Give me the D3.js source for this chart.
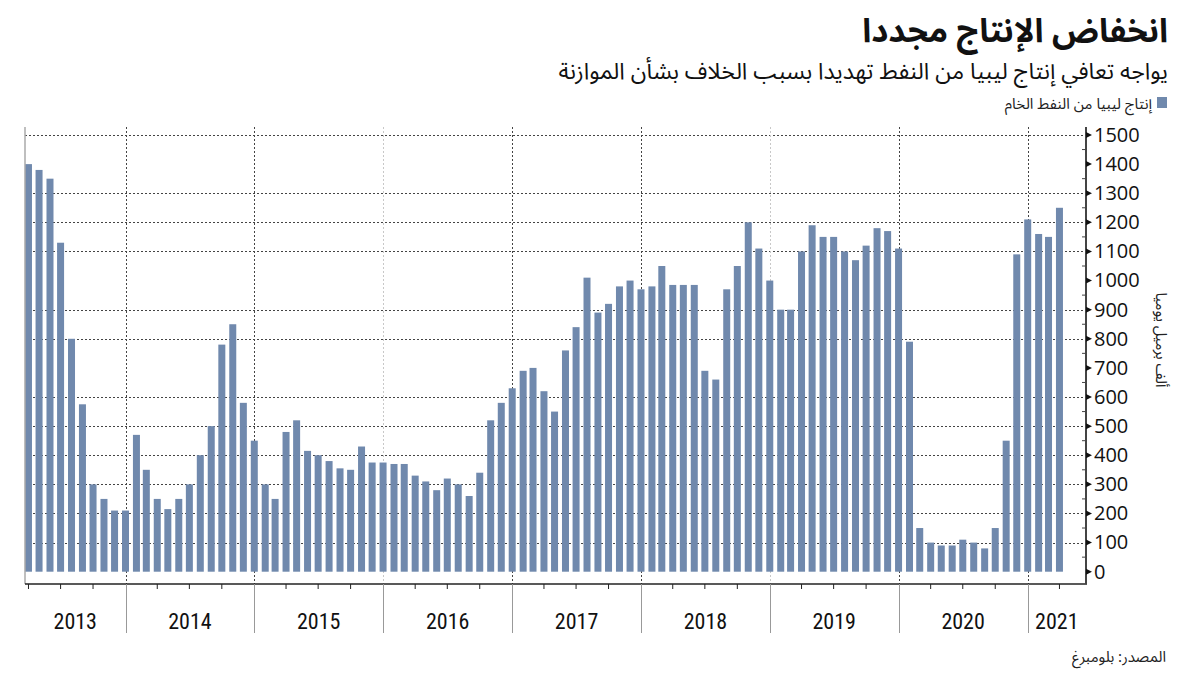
<!DOCTYPE html>
<html>
<head>
<meta charset="utf-8">
<script src="https://cdn.jsdelivr.net/npm/d3@7"></script>
<style>
  body { margin: 0; background: #fff; }
  svg { display: block; }
  .ar { font-family: "Noto Sans Arabic", "DejaVu Sans", sans-serif; }
</style>
</head>
<body>
<svg id="chart" width="1200" height="675"></svg>
<script>
// Libyan crude output, thousand barrels a day, monthly from Apr 2013 to Apr 2021
let firstMonth = new Date(2013, 3, 1), lastMonth = new Date(2021, 3, 1);
let values = [
  1400, 1380, 1350, 1130, 800, 575, 300, 250, 210,            // 2013 Apr-Dec
  210, 470, 350, 250, 215, 250, 300, 400, 500, 780, 850, 580,  // 2014
  450, 300, 250, 480, 520, 415, 400, 380, 355, 350, 430, 375,  // 2015
  375, 370, 370, 330, 310, 280, 320, 300, 260, 340, 520, 580,  // 2016
  630, 690, 700, 620, 550, 760, 840, 1010, 890, 920, 980, 1000, // 2017
  970, 980, 1050, 985, 985, 985, 690, 660, 970, 1050, 1200, 1110, // 2018
  1000, 900, 900, 1100, 1190, 1150, 1150, 1100, 1070, 1120, 1180, 1170, // 2019
  1110, 790, 150, 100, 90, 90, 110, 100, 80, 150, 450, 1090,  // 2020
  1210, 1160, 1150, 1250                                      // 2021 Jan-Apr
];
let months = d3.timeMonth.range(firstMonth, d3.timeMonth.offset(lastMonth, 1));
let yTicks = d3.range(0, 1501, 100);
let gridValues = [100, 200, 300, 400, 500, 600, 800, 900, 1100, 1200, 1300, 1500];
let years = d3.range(2013, 2022);
let lightYears = [2016, 2019];

let title = "انخفاض الإنتاج مجددا";
let subtitle = "يواجه تعافي إنتاج ليبيا من النفط تهديدا بسبب الخلاف بشأن الموازنة";
let legendLabel = "إنتاج ليبيا من النفط الخام";
let yLabel = "ألف برميل يوميا";
let source = "المصدر: بلومبرغ";

let data = months.map((m, i) => ({ date: m, value: values[i] }));

let svg = d3.select('#chart');
let plotLeft = 25, plotRight = 1086, plotTop = 127, plotBottom = 584;

let x = d3.scaleTime()
    .domain([new Date(2014, 0, 1), new Date(2021, 0, 1)])
    .range([125.5, 1027.7]);
let y = d3.scaleLinear().domain([0, 1500]).range([571.7, 135]);

// horizontal grid
svg.append('g').selectAll('line')
  .data(gridValues).enter().append('line')
    .attr('x1', plotLeft).attr('x2', plotRight)
    .attr('y1', d => Math.round(y(d)) + 0.5).attr('y2', d => Math.round(y(d)) + 0.5)
    .attr('stroke', '#444').attr('stroke-width', 1)
    .attr('stroke-dasharray', '2,2');

// vertical year grid
let yearStarts = years.slice(1).map(yr => new Date(yr, 0, 1));
svg.append('g').selectAll('line')
  .data(yearStarts).enter().append('line')
    .attr('x1', d => Math.round(x(d)) + 0.5).attr('x2', d => Math.round(x(d)) + 0.5)
    .attr('y1', plotTop).attr('y2', plotBottom)
    .attr('stroke', d => lightYears.includes(d.getFullYear()) ? '#c8c8c8' : '#444')
    .attr('stroke-dasharray', '2,2');

// bars
let barW = 7;
svg.append('g').selectAll('rect')
  .data(data).enter().append('rect')
    .attr('x', d => x(d.date) - barW / 2)
    .attr('width', barW)
    .attr('y', d => y(d.value))
    .attr('height', d => y(0) - y(d.value))
    .attr('fill', '#7089ad');

// frame lines
svg.append('line').attr('x1', plotLeft).attr('x2', plotLeft).attr('y1', plotTop).attr('y2', plotBottom)
  .attr('stroke', '#aaa').attr('stroke-width', 1.5);
svg.append('line').attr('x1', plotLeft).attr('x2', plotRight + 1).attr('y1', plotBottom).attr('y2', plotBottom)
  .attr('stroke', '#222').attr('stroke-width', 1.5);

// y axis (right side)
let yAxis = d3.axisRight(y).tickValues(yTicks).tickFormat(d3.format('d')).tickSize(0).tickPadding(8);
let gy = svg.append('g').attr('transform', `translate(${plotRight},0)`).call(yAxis);
gy.select('.domain').remove();
gy.selectAll('text')
  .attr('font-family', '"Open Sans", sans-serif')
  .attr('font-size', 20).attr('fill', '#111');
svg.append('line').attr('x1', plotRight).attr('x2', plotRight).attr('y1', plotTop).attr('y2', plotBottom)
  .attr('stroke', '#444').attr('stroke-width', 2);
// arrow markers at major ticks
svg.append('g').selectAll('path')
  .data(yTicks).enter().append('path')
    .attr('d', d => `M${plotRight},${y(d) - 3}L${plotRight + 6},${y(d)}L${plotRight},${y(d) + 3}Z`)
    .attr('fill', '#111');
// minor ticks
svg.append('g').selectAll('line')
  .data(d3.range(50, 1500, 100)).enter().append('line')
    .attr('x1', plotRight - 4).attr('x2', plotRight)
    .attr('y1', d => y(d)).attr('y2', d => y(d))
    .attr('stroke', '#444');

// x axis: quarterly ticks and year separators
let quarters = d3.timeMonth.every(3).range(new Date(2013, 3, 1), new Date(2021, 4, 1))
  .filter(d => d.getMonth() !== 0);
svg.append('g').selectAll('line')
  .data(quarters).enter().append('line')
    .attr('x1', d => x(d)).attr('x2', d => x(d))
    .attr('y1', plotBottom).attr('y2', plotBottom + 5)
    .attr('stroke', '#222');
svg.append('g').selectAll('line')
  .data(yearStarts).enter().append('line')
    .attr('x1', d => Math.round(x(d)) + 0.5).attr('x2', d => Math.round(x(d)) + 0.5)
    .attr('y1', plotBottom).attr('y2', 633)
    .attr('stroke', '#999');

// year labels centred between separators
let yearEdges = [plotLeft].concat(yearStarts.map(d => x(d))).concat([plotRight]);
svg.append('g').selectAll('text')
  .data(years).enter().append('text')
    .attr('x', (d, i) => (yearEdges[i] + yearEdges[i + 1]) / 2)
    .attr('y', 629)
    .attr('text-anchor', 'middle')
    .attr('font-family', '"Liberation Sans Narrow", "Roboto Condensed", sans-serif')
    .attr('font-size', 22).attr('fill', '#111')
    .text(d => d);

// y label
svg.append('text').attr('class', 'ar')
  .attr('transform', 'translate(1156,340) rotate(90)')
  .attr('text-anchor', 'middle')
  .attr('font-size', 15).attr('fill', '#222')
  .text(yLabel);

// titles
svg.append('text').attr('class', 'ar')
  .attr('x', 1168).attr('y', 42).attr('text-anchor', 'end')
  .attr('font-size', 33).attr('font-weight', 'bold').attr('fill', '#111')
  .text(title);
svg.append('text').attr('class', 'ar')
  .attr('x', 1168).attr('y', 79).attr('text-anchor', 'end')
  .attr('font-size', 23).attr('fill', '#111')
  .text(subtitle);

// legend
svg.append('rect').attr('x', 1157).attr('y', 97).attr('width', 10).attr('height', 11)
  .attr('fill', '#7089ad');
svg.append('text').attr('class', 'ar')
  .attr('x', 1152).attr('y', 109).attr('text-anchor', 'end')
  .attr('font-size', 15).attr('fill', '#222')
  .text(legendLabel);

// source
svg.append('text').attr('class', 'ar')
  .attr('x', 1166).attr('y', 662).attr('text-anchor', 'end')
  .attr('font-size', 15).attr('fill', '#222')
  .text(source);
</script>
</body>
</html>
